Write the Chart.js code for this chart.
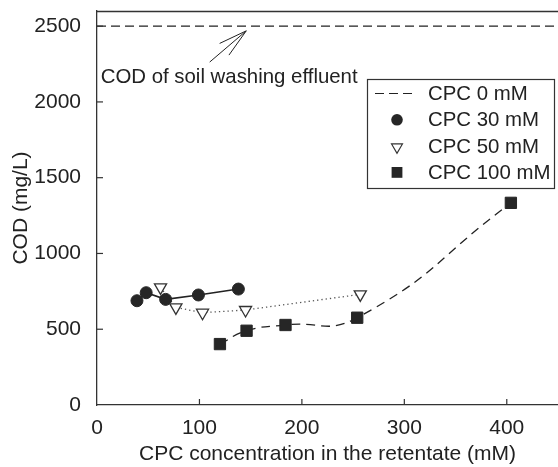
<!DOCTYPE html>
<html><head><meta charset="utf-8">
<script src="https://cdn.jsdelivr.net/npm/chart.js@4.4.0/dist/chart.umd.min.js"></script>
<style>html,body{margin:0;padding:0;background:#fff;}</style>
</head><body>
<canvas id="c" width="558" height="467" style="display:block;width:558px;height:467px"></canvas>
<script>
const seriesLabels = ['CPC 0 mM', 'CPC 30 mM', 'CPC 50 mM', 'CPC 100 mM'];
const cpc0X = [0, 450];
const cpc0Y = [2500, 2500];
const cpc30X = [39, 48, 67, 99, 138];
const cpc30Y = [688, 741, 697, 726, 765];
const cpc50X = [62, 77, 103, 145, 257];
const cpc50Y = [776, 644, 609, 627, 730];
const cpc100X = [120, 146, 184, 254, 404];
const cpc100Y = [402, 490, 528, 576, 1334];
const xTicks = [0, 100, 200, 300, 400];
const yTicks = [0, 500, 1000, 1500, 2000, 2500];
const xTitle = 'CPC concentration in the retentate (mM)';
const yTitle = 'COD (mg/L)';
const noteText = 'COD of soil washing effluent';
// note anchor and arrow in data units
const noteAt = [3.6, 2163];
const arrowTip = [145.7, 2469];
const arrowTails = [[110, 2263], [119.7, 2386], [128.8, 2309]];

const FONT = '"Liberation Sans", Arial, Helvetica, sans-serif';
const INK = '#222';
const pts = (xs, ys) => xs.map((x, i) => ({x: x, y: ys[i]}));

const decor = {
  id: 'decor',
  afterDatasetsDraw(chart) {
    const ctx = chart.ctx, xs = chart.scales.x, ys = chart.scales.y, a = chart.chartArea;
    ctx.save();
    ctx.strokeStyle = '#333'; ctx.lineWidth = 1.3;
    // top border
    ctx.beginPath(); ctx.moveTo(a.left, a.top + 0.5); ctx.lineTo(a.right, a.top + 0.5); ctx.stroke();
    // inward ticks
    ctx.lineWidth = 1.2;
    xTicks.forEach(v => { if (v === 0) return; const p = xs.getPixelForValue(v);
      ctx.beginPath(); ctx.moveTo(p, a.bottom); ctx.lineTo(p, a.bottom - 6); ctx.stroke(); });
    yTicks.forEach(v => { if (v === 0) return; const p = ys.getPixelForValue(v);
      ctx.beginPath(); ctx.moveTo(a.left, p); ctx.lineTo(a.left + 6, p); ctx.stroke(); });
    // annotation
    ctx.strokeStyle = INK; ctx.lineWidth = 1;
    const tx = xs.getPixelForValue(arrowTip[0]), ty = ys.getPixelForValue(arrowTip[1]);
    arrowTails.forEach(t => { ctx.beginPath(); ctx.moveTo(xs.getPixelForValue(t[0]), ys.getPixelForValue(t[1])); ctx.lineTo(tx, ty); ctx.stroke(); });
    ctx.fillStyle = INK; ctx.font = '20.4px ' + FONT; ctx.textAlign = 'left'; ctx.textBaseline = 'middle';
    ctx.fillText(noteText, xs.getPixelForValue(noteAt[0]), ys.getPixelForValue(noteAt[1]));
    // legend box
    const x0 = 367, y0 = 79, w = 187, h = 109;
    ctx.fillStyle = '#fff'; ctx.fillRect(x0, y0, w, h);
    ctx.strokeStyle = '#333'; ctx.lineWidth = 1.2; ctx.strokeRect(x0 + 0.5, y0 + 0.5, w, h);
    chart.data.datasets.forEach((ds, i) => {
      const cy = 93.5 + i * 26.3, cx = 397;
      ctx.save();
      ctx.fillStyle = ds.pointBackgroundColor; ctx.strokeStyle = ds.pointBorderColor || INK; ctx.lineWidth = 1.2;
      if (i === 0) {
        ctx.strokeStyle = INK; ctx.setLineDash([9, 5]);
        ctx.beginPath(); ctx.moveTo(375, cy); ctx.lineTo(414, cy); ctx.stroke();
      } else if (ds.pointStyle === 'circle') {
        ctx.beginPath(); ctx.arc(cx, cy, 5.8, 0, Math.PI * 2); ctx.fill();
      } else if (ds.pointStyle === 'triangle') {
        const r = 6.3;
        ctx.beginPath(); ctx.moveTo(cx - r * 0.866, cy - r * 0.5 + 1); ctx.lineTo(cx + r * 0.866, cy - r * 0.5 + 1); ctx.lineTo(cx, cy + r + 1); ctx.closePath();
        ctx.fill(); ctx.stroke();
      } else {
        ctx.fillRect(cx - 5.4, cy - 5.4, 10.8, 10.8);
      }
      ctx.restore();
      ctx.fillStyle = INK; ctx.font = '20.4px ' + FONT; ctx.textAlign = 'left'; ctx.textBaseline = 'middle';
      ctx.fillText(ds.label, 428, cy + 1);
    });
    ctx.restore();
  }
};

new Chart(document.getElementById('c'), {
  type: 'scatter',
  data: {
    datasets: [
      { label: seriesLabels[0], data: pts(cpc0X, cpc0Y), showLine: true, pointRadius: 0,
        borderColor: INK, borderWidth: 1.2, borderDash: [9, 5], pointBackgroundColor: INK },
      { label: seriesLabels[1], data: pts(cpc30X, cpc30Y), showLine: true, pointStyle: 'circle', pointRadius: 6,
        pointBackgroundColor: '#262626', pointBorderColor: '#262626', pointBorderWidth: 1,
        borderColor: INK, borderWidth: 1.6 },
      { label: seriesLabels[2], data: pts(cpc50X, cpc50Y), showLine: true, pointStyle: 'triangle', rotation: 180, pointRadius: 7,
        pointBackgroundColor: '#fff', pointBorderColor: '#333', pointBorderWidth: 1.3,
        borderColor: '#555', borderWidth: 1.3, borderDash: [1.3, 3] },
      { label: seriesLabels[3], data: pts(cpc100X, cpc100Y), showLine: true, pointStyle: 'rect', pointRadius: 8,
        pointBackgroundColor: '#262626', pointBorderColor: '#262626', pointBorderWidth: 1,
        borderColor: INK, borderWidth: 1.3, borderDash: [9, 6], tension: 0.5 }
    ]
  },
  options: {
    responsive: false, animation: false, devicePixelRatio: 1,
    layout: { autoPadding: false, padding: { top: 11, right: 0, left: 0, bottom: 0 } },
    plugins: { legend: { display: false }, tooltip: { enabled: false } },
    scales: {
      x: { type: 'linear', min: 0, max: 450,
        afterBuildTicks: s => { s.ticks = xTicks.map(v => ({value: v})); },
        afterFit: s => { s.height = 62; s.paddingLeft = 0; s.paddingRight = 0; },
        grid: { display: false }, border: { display: true, color: '#333', width: 1.3 },
        ticks: { color: INK, font: { family: FONT, size: 21 }, padding: 3, maxRotation: 0, callback: v => String(v) },
        title: { display: true, text: xTitle, color: INK, font: { family: FONT, size: 21 }, padding: { top: 0, bottom: 0 } } },
      y: { type: 'linear', min: 0, max: 2600,
        afterBuildTicks: s => { s.ticks = yTicks.map(v => ({value: v})); },
        afterFit: s => { s.width = 97; s.paddingTop = 0; s.paddingBottom = 0; },
        grid: { display: false }, border: { display: true, color: '#333', width: 1.3 },
        ticks: { color: INK, font: { family: FONT, size: 21 }, padding: 8, callback: v => String(v) },
        title: { display: true, text: yTitle, color: INK, font: { family: FONT, size: 21 }, padding: { top: 8.4, bottom: 0 } } }
    }
  },
  plugins: [decor]
});
</script>
</body></html>
